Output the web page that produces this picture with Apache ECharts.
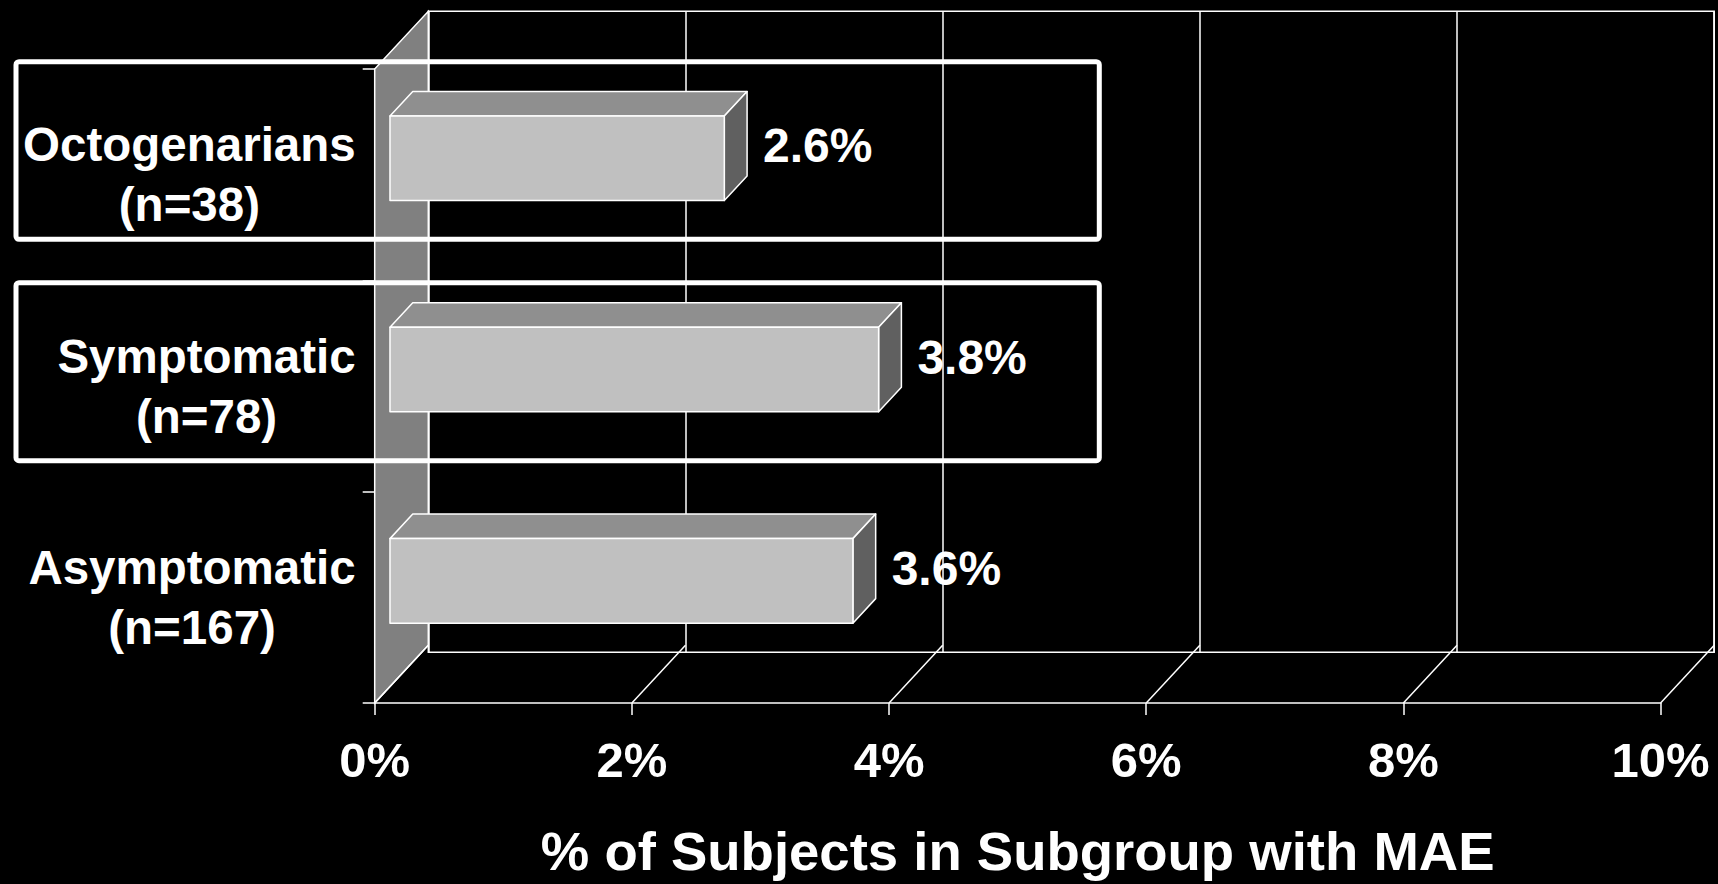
<!DOCTYPE html>
<html>
<head>
<meta charset="utf-8">
<title>MAE by subgroup</title>
<script src="https://cdn.jsdelivr.net/npm/echarts@6/dist/echarts.min.js"></script>
<style>
  html, body { margin: 0; padding: 0; background: #000; }
  #chart { width: 1718px; height: 884px; }
</style>
</head>
<body>
<div id="chart"></div>
<script>
// chart data
const subgroups = ['Octogenarians', 'Symptomatic', 'Asymptomatic']
const subgroupSizes = [38, 78, 167]
const maeRates = [2.6, 3.8, 3.6]
const rateTicks = [0, 2, 4, 6, 8, 10]
const axisTitle = '% of Subjects in Subgroup with MAE'

// layout of the fake 3D box (front plane + depth offset)
const FRONT = { left: 374.7, right: 57.4, top: 69, bottom: 174 }
const DEPTH_X = 53.6
const DEPTH_Y = 57.7
const FONT = '"Liberation Sans", Arial, Helvetica, sans-serif'

const categoryLabels = subgroups.map((name, i) => name + '\n(n=' + subgroupSizes[i] + ')')

// floor diagonals + the grey left wall
const renderFrame = (params, api) => {
  const v = api.value(0)
  const cs = params.coordSys
  const bottom = cs.y + cs.height
  const x = api.coord([v, 0])[0]
  const children = []
  if (v === rateTicks[0]) {
    children.push({
      type: 'polygon',
      shape: { points: [[x, cs.y], [x + DEPTH_X, cs.y - DEPTH_Y], [x + DEPTH_X, bottom - DEPTH_Y], [x, bottom]] },
      style: { fill: '#808080', stroke: '#fff', lineWidth: 1.5 }
    })
  }
  children.push({
    type: 'line',
    shape: { x1: x, y1: bottom, x2: x + DEPTH_X, y2: bottom - DEPTH_Y },
    style: { stroke: '#fff', lineWidth: 1.5 }
  })
  return { type: 'group', children }
}

// 3D looking bar: front, top and right faces
const renderBar = (params, api) => {
  const value = api.value(0)
  const idx = api.value(1)
  const start = api.coord([0, idx])
  const end = api.coord([value, idx])
  const band = Math.abs(api.size([0, 1])[1])
  const h = band * 0.4
  const fx = DEPTH_X * 0.285
  const fy = DEPTH_Y * 0.285
  const dx = DEPTH_X * 0.425
  const dy = DEPTH_Y * 0.425
  const x0 = start[0] + fx
  const x1 = end[0] + fx
  const yt = start[1] - fy - h / 2
  const yb = yt + h
  const edge = { stroke: '#fff', lineWidth: 1.5, lineJoin: 'round' }
  return {
    type: 'group',
    children: [
      {
        type: 'polygon',
        shape: { points: [[x0, yt], [x1, yt], [x1 + dx, yt - dy], [x0 + dx, yt - dy]] },
        style: { fill: '#8f8f8f', ...edge }
      },
      {
        type: 'polygon',
        shape: { points: [[x1, yt], [x1 + dx, yt - dy], [x1 + dx, yb - dy], [x1, yb]] },
        style: { fill: '#606060', ...edge }
      },
      {
        type: 'rect',
        shape: { x: x0, y: yt, width: x1 - x0, height: h },
        style: { fill: '#c0c0c0', ...edge }
      },
      {
        type: 'text',
        style: {
          text: value + '%',
          x: x1 + dx + 16,
          y: (yt - dy + yb) / 2,
          fill: '#fff',
          fontSize: 48,
          fontWeight: 'bold',
          fontFamily: FONT,
          align: 'left',
          verticalAlign: 'middle'
        }
      }
    ]
  }
}

const chart = echarts.init(document.getElementById('chart'), null, { renderer: 'svg' })

const option = {
  backgroundColor: '#000',
  animation: false,
  grid: [
    { left: FRONT.left, right: FRONT.right, top: FRONT.top, bottom: FRONT.bottom },
    {
      left: FRONT.left + DEPTH_X,
      right: FRONT.right - DEPTH_X,
      top: FRONT.top - DEPTH_Y,
      bottom: FRONT.bottom + DEPTH_Y,
      show: true,
      borderColor: '#fff',
      borderWidth: 1.5,
      backgroundColor: 'transparent'
    }
  ],
  xAxis: [
    {
      gridIndex: 0,
      type: 'value',
      min: 0,
      max: 10,
      interval: 2,
      axisLine: { show: true, lineStyle: { color: '#fff', width: 1.5 } },
      axisTick: { show: true, inside: false, length: 12, lineStyle: { color: '#fff', width: 1.5 } },
      splitLine: { show: false },
      axisLabel: {
        margin: 32,
        color: '#fff',
        fontSize: 49,
        fontWeight: 'bold',
        fontFamily: FONT,
        formatter: '{value}%'
      },
      name: axisTitle,
      nameLocation: 'middle',
      nameGap: 121,
      nameTextStyle: { color: '#fff', fontSize: 54.5, fontWeight: 'bold', fontFamily: FONT }
    },
    {
      gridIndex: 1,
      type: 'value',
      min: 0,
      max: 10,
      interval: 2,
      axisLine: { show: false },
      axisTick: { show: false },
      axisLabel: { show: false },
      splitLine: { show: true, lineStyle: { color: '#fff', width: 1.5 } }
    }
  ],
  yAxis: [
    {
      gridIndex: 0,
      type: 'category',
      inverse: true,
      data: categoryLabels,
      axisLine: { show: true, lineStyle: { color: '#fff', width: 1.5 } },
      axisTick: { show: true, inside: false, length: 12, lineStyle: { color: '#fff', width: 1.5 } },
      splitLine: { show: false },
      axisLabel: {
        margin: 19,
        align: 'right',
        formatter: (v) => v.split('\n').map(s => '{c|' + s + '}').join('\n'),
        rich: {
          c: { align: 'center', color: '#fff', fontSize: 47.5, fontWeight: 'bold', fontFamily: FONT, lineHeight: 60 }
        }
      }
    },
    {
      gridIndex: 1,
      type: 'category',
      inverse: true,
      data: categoryLabels,
      show: false
    }
  ],
  series: [
    {
      type: 'custom',
      name: 'frame',
      xAxisIndex: 0,
      yAxisIndex: 0,
      z: 1,
      clip: false,
      silent: true,
      renderItem: renderFrame,
      encode: { x: 0, y: 1 },
      data: rateTicks.map(t => [t, 0])
    },
    {
      type: 'custom',
      name: 'MAE',
      xAxisIndex: 0,
      yAxisIndex: 0,
      z: 3,
      clip: false,
      renderItem: renderBar,
      encode: { x: 0, y: 1 },
      data: maeRates.map((v, i) => [v, i])
    }
  ],
  graphic: [
    {
      type: 'rect',
      z: 100,
      shape: { x: 16, y: 61.7, width: 1083.3, height: 177.6, r: 3 },
      style: { fill: 'none', stroke: '#fff', lineWidth: 5 }
    },
    {
      type: 'rect',
      z: 100,
      shape: { x: 16, y: 282.7, width: 1083.3, height: 178, r: 3 },
      style: { fill: 'none', stroke: '#fff', lineWidth: 5 }
    }
  ]
}

chart.setOption(option)
window.addEventListener('resize', () => chart.resize())
</script>
</body>
</html>
